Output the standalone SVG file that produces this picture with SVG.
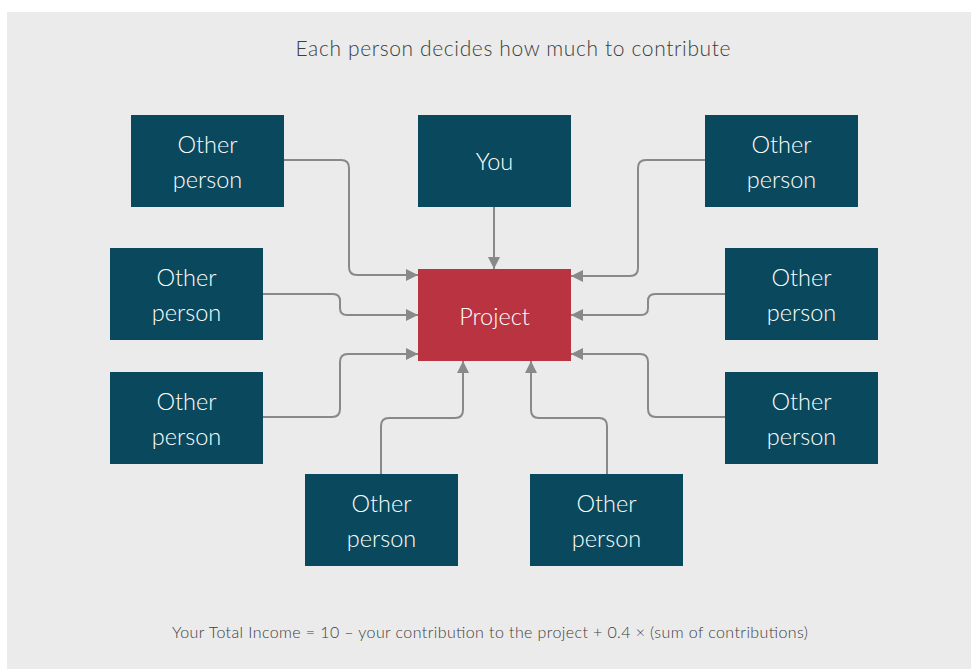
<svg xmlns="http://www.w3.org/2000/svg" width="971" height="669" viewBox="0 0 971 669">
<defs>
<style>
.node{fill:#0a495d;}
.proj{fill:#b93440;}
.lbl{font-family:Lato,"Open Sans",sans-serif;font-size:23.5px;font-weight:300;fill:#ffffff;text-anchor:middle;}
.cap{font-family:Lato,"Open Sans",sans-serif;font-weight:300;fill:#3d3d3d;text-anchor:middle;}
.edge{fill:none;stroke:#898989;stroke-width:2;marker-end:url(#arr);}
</style>
<marker id="arr" viewBox="0 0 12 12" refX="12" refY="6" markerWidth="12" markerHeight="12" markerUnits="userSpaceOnUse" orient="auto">
<path d="M0,0 L12,6 L0,12 Z" fill="#898989"/>
</marker>
</defs>
<rect x="0" y="0" width="971" height="669" fill="#ffffff"/>
<rect x="7" y="12" width="964" height="657" fill="#ebebeb"/>
<text class="cap" x="513" y="56" font-size="21" textLength="435" lengthAdjust="spacing">Each person decides how much to contribute</text>
<text class="cap" x="490" y="638" font-size="16" textLength="636" lengthAdjust="spacing">Your Total Income = 10 – your contribution to the project + 0.4 × (sum of contributions)</text>
<g id="connectors">
<path class="edge" d="M284,160 H341 Q349,160 349,168 V267 Q349,275 357,275 H418"/>
<path class="edge" d="M705,160 H646 Q638,160 638,168 V268 Q638,276 630,276 H571"/>
<path class="edge" d="M263,294 H333 Q340,294 340,301 V308 Q340,315 347,315 H418"/>
<path class="edge" d="M263,417 H332 Q340,417 340,409 V362 Q340,354 348,354 H418"/>
<path class="edge" d="M725,294 H655 Q648,294 648,301 V308 Q648,315 641,315 H571"/>
<path class="edge" d="M725,417 H656 Q648,417 648,409 V362 Q648,354 640,354 H571"/>
<path class="edge" d="M381,474 V426 Q381,418 389,418 H455 Q463,418 463,410 V361"/>
<path class="edge" d="M607,474 V426 Q607,418 599,418 H539 Q531,418 531,410 V361"/>
<path class="edge" d="M494,207 V269"/>
</g>
<g id="you"><rect class="node" x="418" y="115" width="153" height="92"/><text class="lbl" x="494.5" y="170">You</text></g>
<g id="project"><rect class="proj" x="418" y="269" width="153" height="92"/><text class="lbl" x="494.5" y="325">Project</text></g>
<g id="p1"><rect class="node" x="131" y="115" width="153" height="92"/><text class="lbl" x="207.5" y="153">Other</text><text class="lbl" x="207.5" y="188">person</text></g>
<g id="p2"><rect class="node" x="705" y="115" width="153" height="92"/><text class="lbl" x="781.5" y="153">Other</text><text class="lbl" x="781.5" y="188">person</text></g>
<g id="p3"><rect class="node" x="110" y="248" width="153" height="92"/><text class="lbl" x="186.5" y="286">Other</text><text class="lbl" x="186.5" y="321">person</text></g>
<g id="p4"><rect class="node" x="725" y="248" width="153" height="92"/><text class="lbl" x="801.5" y="286">Other</text><text class="lbl" x="801.5" y="321">person</text></g>
<g id="p5"><rect class="node" x="110" y="372" width="153" height="92"/><text class="lbl" x="186.5" y="410">Other</text><text class="lbl" x="186.5" y="445">person</text></g>
<g id="p6"><rect class="node" x="725" y="372" width="153" height="92"/><text class="lbl" x="801.5" y="410">Other</text><text class="lbl" x="801.5" y="445">person</text></g>
<g id="p7"><rect class="node" x="305" y="474" width="153" height="92"/><text class="lbl" x="381.5" y="512">Other</text><text class="lbl" x="381.5" y="547">person</text></g>
<g id="p8"><rect class="node" x="530" y="474" width="153" height="92"/><text class="lbl" x="606.5" y="512">Other</text><text class="lbl" x="606.5" y="547">person</text></g>
</svg>
